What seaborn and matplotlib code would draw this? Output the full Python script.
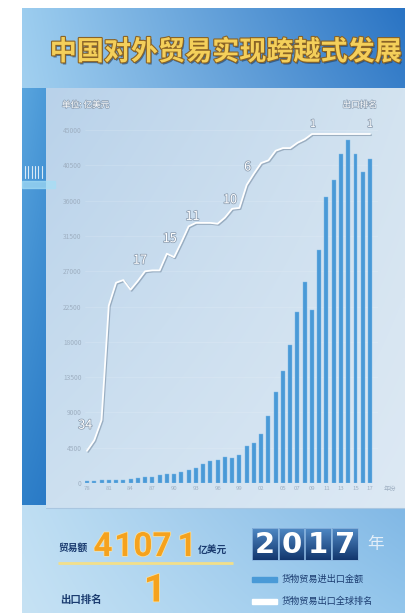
import numpy as np
import pandas as pd
import matplotlib
matplotlib.use('Agg')
import matplotlib.pyplot as plt
import matplotlib.patheffects as pe
from matplotlib.patches import Rectangle
from matplotlib.colors import to_rgb
import seaborn as sns

W, H = 405, 613

# data
YEARS = list(range(1978, 2018))
TRADE = [206, 293, 381, 440, 416, 436, 535, 696, 738, 827,
         1028, 1117, 1154, 1357, 1655, 1957, 2366, 2809, 2899, 3252,
         3240, 3606, 4743, 5097, 6208, 8510, 11546, 14219, 17604, 21766,
         25633, 22075, 29740, 36419, 38671, 41900, 43700, 41900, 39700, 41300]
RANK = [37, 35.8, 33.5, 20.5, 17.9, 17.6, 18.7, 17.7, 16.6, 16.5,
        16.5, 14.6, 15.0, 13.3, 11.5, 11.1, 11.1, 11.1, 11.2, 10.5,
        9.5, 9.4, 6.8, 5.5, 4.3, 4.0, 2.9, 2.6, 2.6, 2.0,
        1.6, 1, 1, 1, 1, 1, 1, 1, 1, 1]
RANK_LABEL_YEARS = [1979, 1986, 1989, 1992, 1998, 2000, 2009, 2017]
RANK_LABELS = ['34', '17', '15', '11', '10', '6', '1', '1']
XTICK_YEARS = [1978, 1981, 1984, 1987, 1990, 1993, 1996, 1999, 2002,
               2005, 2007, 2009, 2011, 2013, 2015, 2017]
Y_TICKS = [0, 4500, 9000, 13500, 18000, 22500, 27000, 31500, 36000, 40500, 45000]
TOTAL_PARTS = ['4', '107', '1']     # 41071 shown as counter digits
RANK_2017 = '1'
YEAR_SHOWN = '2017'

TITLE = '中国对外贸易实现跨越式发展'
NAVY = '#1b3c70'
BAR_C = '#4a9ad7'
ORANGE = '#f5a21e'

# label offsets in px (style)
LABEL_OFFSETS = [(-9, 15), (-5, 11), (3, 15), (4, 10), (-2, 9), (1, 18), (1, 10), (0, 10)]

sns.set_style('white')
plt.rcParams['font.family'] = ['Noto Sans CJK SC', 'DejaVu Sans']


def grad(tl, tr, bl, br, w=120, h=160):
    tl, tr, bl, br = [np.array(to_rgb(c)) for c in (tl, tr, bl, br)]
    u = np.linspace(0, 1, w)[None, :, None]
    v = np.linspace(0, 1, h)[:, None, None]
    top = tl * (1 - u) + tr * u
    bot = bl * (1 - u) + br * u
    return top * (1 - v) + bot * v


fig = plt.figure(figsize=(W / 100, H / 100), dpi=100, facecolor='white')
bg = fig.add_axes([0, 0, 1, 1])
bg.set_axis_off()

# backdrop, panel, left strip
bg.imshow(grad('#9ccdef', '#2a74c4', '#c6e2f4', '#93c6ec'),
          extent=(22, W, H, 8), aspect='auto', interpolation='bilinear', zorder=0)
bg.imshow(grad('#b9d2ea', '#d3e3f0', '#cde0f0', '#dde9f4'),
          extent=(46, W, 508, 88), aspect='auto', interpolation='bilinear', zorder=1)
bg.imshow(grad('#5aa5de', '#4c9ad8', '#2f80c9', '#2a7ac6'),
          extent=(22, 46, 505, 88), aspect='auto', interpolation='bilinear', zorder=1)
bg.plot([46, W], [508, 508], color='#a9c6e0', lw=0.8, zorder=2)
for k in range(6):
    bg.plot([25 + k * 3.3] * 2, [166, 178], color='white', lw=0.8, alpha=0.8, zorder=2)
bg.add_patch(Rectangle((22, 181), 33, 7, color='#a6def6', alpha=0.7, zorder=2))

bg.text(226, 52, TITLE, fontsize=19.5, fontweight='bold', color='#f4cf5a',
        ha='center', va='center', zorder=5,
        path_effects=[pe.SimplePatchShadow(offset=(1, -1.5), shadow_rgbFace='#223a5a', alpha=0.6),
                      pe.withStroke(linewidth=1.6, foreground='#8a6326')])

txt_fx = [pe.withStroke(linewidth=1.0, foreground='#8fa1b4')]
bg.text(62, 105, '单位: 亿美元', fontsize=6.2, color='white', ha='left', va='center',
        zorder=5, path_effects=txt_fx)
bg.text(377, 105, '出口排名', fontsize=6.2, color='white', ha='right', va='center',
        zorder=5, path_effects=txt_fx)
bg.text(390, 489, '年份', fontsize=4.5, color='#9fb0c2', ha='center', va='center', zorder=5)

# main chart
df = pd.DataFrame({'year': YEARS, 'trade': TRADE, 'rank': RANK})
df['pos'] = np.arange(len(df))

ax = fig.add_axes([85 / W, 1 - 483 / H, 293 / W, 353 / H])
ax.patch.set_alpha(0)
sns.barplot(data=df, x='year', y='trade', color=BAR_C, width=0.55, saturation=1,
            edgecolor='#80bbe8', linewidth=0.3, ax=ax, zorder=3)
ax.set_xlim(-0.276, 40.1)
ax.set_ylim(0, 45000)
ax.set_yticks(Y_TICKS)
ax.set_yticklabels([str(t) for t in Y_TICKS], fontsize=4.8, color='#9fb0c2')
ax.set_xticks([YEARS.index(y) for y in XTICK_YEARS])
ax.set_xticklabels([f'{y % 100:02d}' for y in XTICK_YEARS], fontsize=4.3, color='#9fb0c2')
ax.tick_params(length=0, pad=2.5)
ax.set_xlabel('')
ax.set_ylabel('')
sns.despine(ax=ax, left=True, bottom=True)
ax.grid(axis='y', color='white', alpha=0.18, lw=0.5)
ax.set_axisbelow(True)

ax2 = ax.twinx()
sns.lineplot(data=df, x='pos', y='rank', ax=ax2, color='white', lw=1.3, zorder=5)
ax2.lines[0].set_path_effects([pe.SimpleLineShadow(offset=(0.8, -0.8), shadow_color='#6a7f95', alpha=0.5),
                               pe.Normal()])
ax2.set_ylim(40.66, 0.545)
ax2.set_xlim(-0.276, 40.1)
ax2.set_axis_off()

for yr, lab, (dx, dy) in zip(RANK_LABEL_YEARS, RANK_LABELS, LABEL_OFFSETS):
    i = YEARS.index(yr)
    ax2.annotate(lab, (i, RANK[i]), xytext=(dx * 0.72, dy * 0.72), textcoords='offset points',
                 ha='center', va='center', fontsize=7.5 if lab == '1' else 9, color='white',
                 path_effects=[pe.withStroke(linewidth=1.1, foreground='#8c9db0')])

# bottom block
bg.text(58, 548, '贸易额', fontsize=7, fontweight='bold', color=NAVY, ha='left', va='center', zorder=5)
num_fx = [pe.withStroke(linewidth=1.0, foreground='#fbe3a2')]
for part, xc in zip(TOTAL_PARTS, [103, 143, 187]):
    bg.text(xc, 547, part, fontsize=24, fontweight='bold', family='Roboto',
            color=ORANGE, ha='center', va='center', zorder=5, path_effects=num_fx)
bg.text(198, 550, '亿美元', fontsize=7, fontweight='bold', color=NAVY, ha='left', va='center', zorder=5)
bg.plot([58, 233], [563, 563], color='#f2df8a', lw=2, solid_capstyle='butt', zorder=4)
bg.text(60, 600, '出口排名', fontsize=7.5, fontweight='bold', color=NAVY, ha='left', va='center', zorder=5)
bg.text(155, 591, RANK_2017, fontsize=28, fontweight='bold', family='Roboto',
        color=ORANGE, ha='center', va='center', zorder=5, path_effects=num_fx)

for k, ch in enumerate(YEAR_SHOWN):
    x0 = 252 + k * 26.7
    bg.imshow(grad('#4f88c4', '#4f88c4', '#12376e', '#12376e', w=2, h=40),
              extent=(x0, x0 + 25.5, 560, 528), aspect='auto', interpolation='bilinear', zorder=4)
    bg.add_patch(Rectangle((x0, 528), 25.5, 32, fill=False, edgecolor='#8ab4de', lw=0.6, zorder=5))
    bg.text(x0 + 12.75, 545, ch, fontsize=21, fontweight='bold', family='DejaVu Sans',
            color='white', ha='center', va='center', zorder=6)
bg.text(376, 545, '年', fontsize=12, color='#e3eef8', ha='center', va='center', zorder=5)

bg.add_patch(Rectangle((252, 577), 25, 4.5, color=BAR_C, zorder=5))
bg.text(282, 579.5, '货物贸易进出口金额', fontsize=6.6, color=NAVY, ha='left', va='center', zorder=5)
bg.add_patch(Rectangle((252, 599), 25, 4.5, color='white', zorder=5))
bg.text(282, 601.5, '货物贸易出口全球排名', fontsize=6.6, color=NAVY, ha='left', va='center', zorder=5)

bg.set_xlim(0, W)
bg.set_ylim(H, 0)

fig.savefig('out.png', dpi=100)
